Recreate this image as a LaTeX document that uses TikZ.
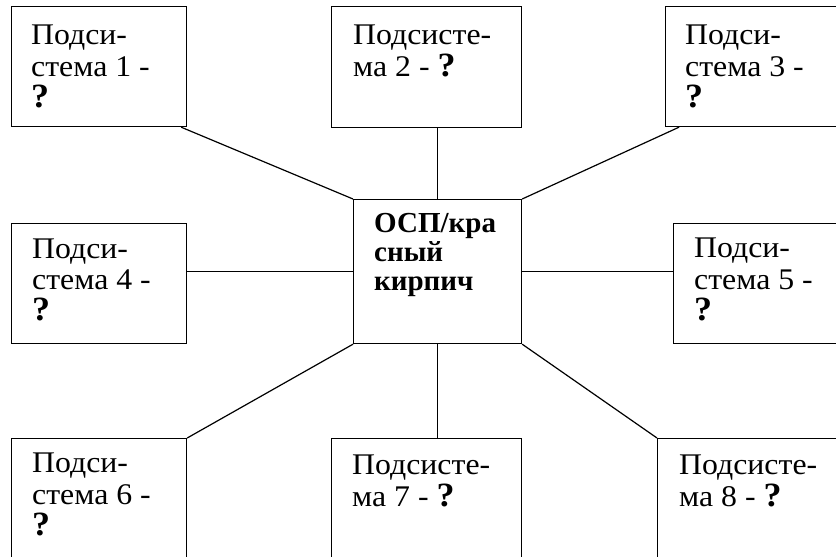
\documentclass[tikz,border=0pt]{standalone}
\usepackage{fontspec}
\setmainfont{Liberation Serif}
\newfontfamily\wideserif[FakeStretch=1.06]{Liberation Serif}
\newcommand{\qmark}{{\fontsize{34}{31.3}\selectfont\bfseries ?}}
\begin{document}
\begin{tikzpicture}[x=1pt,y=-1pt,
  box/.style={draw,line width=1.2pt,rectangle,inner sep=0pt,anchor=north west},
  txt/.style={anchor=north west,inner sep=0pt,align=left,font=\wideserif\fontsize{30}{31.3}\selectfont},
  ctxt/.style={anchor=north west,inner sep=0pt,align=left,font=\fontsize{29}{29}\selectfont\bfseries},
  link/.style={line width=1.2pt}]
\useasboundingbox (0,0) rectangle (836,557);
\clip (0,0) rectangle (836,557);
\fill[white] (0,0) rectangle (836,557);
% boxes
\node[box,minimum width=175pt,minimum height=120pt] (b1) at (11,6) {};
\node[box,minimum width=190pt,minimum height=121pt] (b2) at (331,6) {};
\node[box,minimum width=185pt,minimum height=120pt] (b3) at (665,6) {};
\node[box,minimum width=175pt,minimum height=120pt] (b4) at (11,223) {};
\node[box,minimum width=168pt,minimum height=144pt] (c) at (353,199) {};
\node[box,minimum width=185pt,minimum height=120pt] (b5) at (673,223) {};
\node[box,minimum width=175pt,minimum height=125pt] (b6) at (11,438) {};
\node[box,minimum width=190pt,minimum height=125pt] (b7) at (331,438) {};
\node[box,minimum width=190pt,minimum height=125pt] (b8) at (657,438) {};
% texts
\node[txt] (t1) at ([shift={(20,19)}]b1.north west) {Подси-\\стема 1 -\\\qmark};
\node[txt] (t2) at ([shift={(22,19)}]b2.north west) {Подсисте-\\ма 2 - \qmark};
\node[txt] (t3) at ([shift={(20,19)}]b3.north west) {Подси-\\стема 3 -\\\qmark};
\node[txt] (t4) at ([shift={(21,15.5)}]b4.north west) {Подси-\\стема 4 -\\\qmark};
\node[txt] (t5) at ([shift={(21,15)}]b5.north west) {Подси-\\стема 5 -\\\qmark};
\node[txt] (t6) at ([shift={(21,15)}]b6.north west) {Подси-\\стема 6 -\\\qmark};
\node[txt] (t7) at ([shift={(21,17)}]b7.north west) {Подсисте-\\ма 7 - \qmark};
\node[txt] (t8) at ([shift={(22,17)}]b8.north west) {Подсисте-\\ма 8 - \qmark};
\node[ctxt] (tc) at ([shift={(21,14.5)}]c.north west) {ОСП/кра\\сный\\кирпич};
% connectors
\draw[link] ([xshift=-6pt]b1.south east) -- (c.north west);
\draw[link] (c.north) -- (c.north |- b2.south);
\draw[link] ([xshift=14pt]b3.south west) -- (c.north east);
\draw[link] (c.west) -- (c.west -| b4.east);
\draw[link] (c.east) -- (c.east -| b5.west);
\draw[link] (b6.north east) -- (c.south west);
\draw[link] (c.south) -- (c.south |- b7.north);
\draw[link] (b8.north west) -- (c.south east);
\end{tikzpicture}
\end{document}
